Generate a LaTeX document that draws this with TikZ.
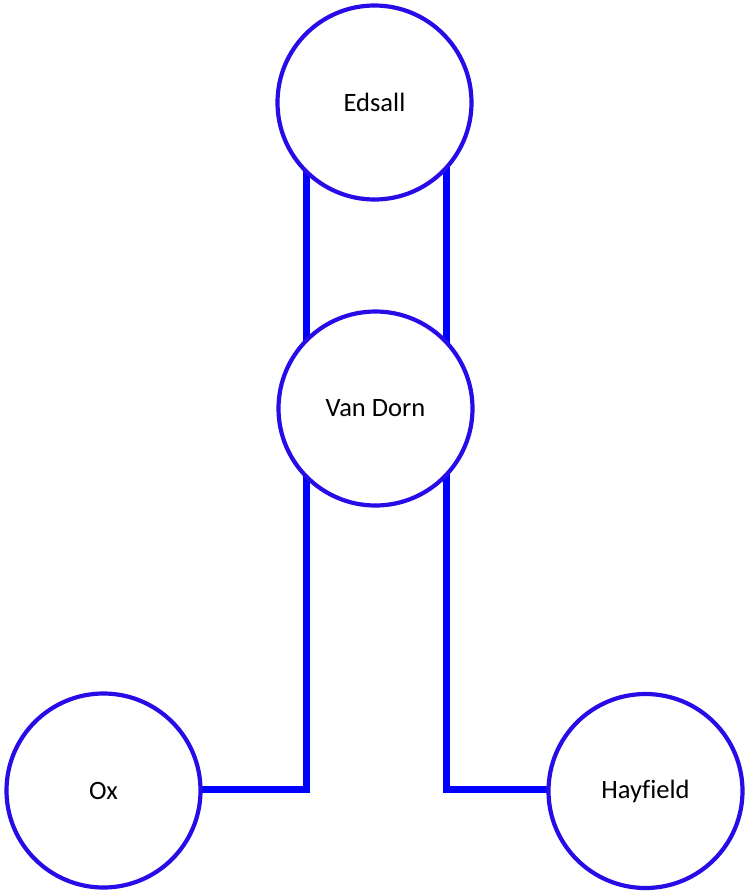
\documentclass[tikz,border=0pt]{standalone}
\usepackage{fontspec}
\setmainfont{Carlito}[Ligatures=NoCommon]
\usetikzlibrary{backgrounds}
\definecolor{ringblue}{RGB}{40,12,232}
\definecolor{linkblue}{RGB}{0,0,255}
\begin{document}
\begin{tikzpicture}[x=1pt,y=-1pt,
  station/.style={circle,draw=ringblue,line width=4.2pt,fill=white,minimum size=194pt,inner sep=0pt,font=\fontsize{26.5}{31}\selectfont},
  link/.style={draw=linkblue,line width=7pt}]
\useasboundingbox (0,0) rectangle (749,892);
\node[station] (E) at (374.5,102.5) {Edsall};
\node[station] (V) at (375.5,408.5) {Van Dorn};
\node[station] (O) at (103.5,790.5) {Ox};
\node[station] (H) at (645.5,791) {Hayfield};
\coordinate (xl) at (306,0);
\coordinate (xr) at (446,0);
\coordinate (yb) at (0,789);
\begin{pgfonlayer}{background}
\draw[link] (E.center -| xl) -- (V.center -| xl);
\draw[link] (E.center -| xr) -- (V.center -| xr);
\draw[link] (V.center -| xl) -- (yb -| xl) -- (yb -| O.center);
\draw[link] (V.center -| xr) -- (yb -| xr) -- (yb -| H.center);
\end{pgfonlayer}
\end{tikzpicture}
\end{document}
